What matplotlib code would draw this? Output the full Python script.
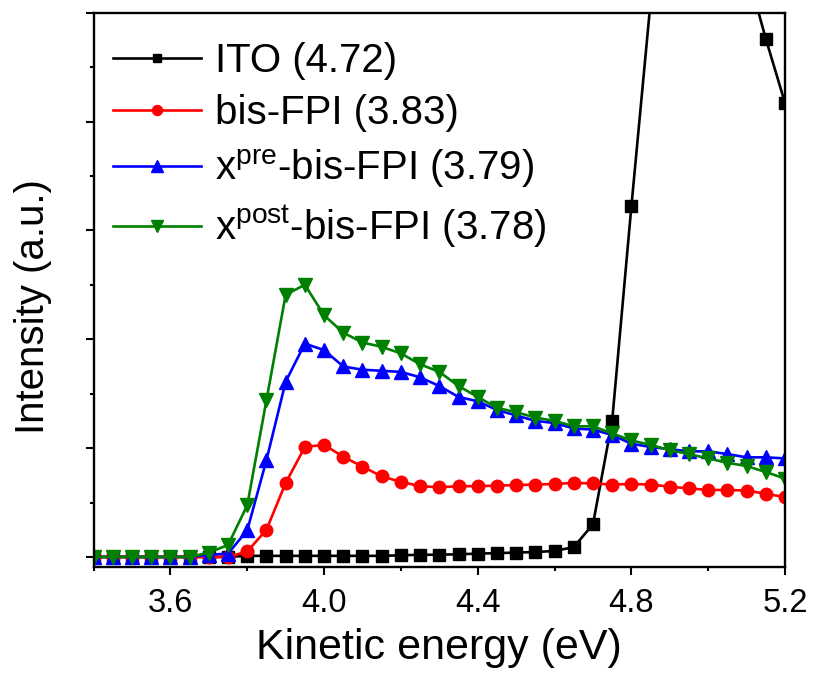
import matplotlib
matplotlib.use('Agg')
import matplotlib.pyplot as plt
from matplotlib.ticker import MultipleLocator, NullFormatter

plt.rcParams['font.family'] = ['Liberation Sans', 'DejaVu Sans']
plt.rcParams['mathtext.fontset'] = 'custom'
plt.rcParams['mathtext.rm'] = 'Liberation Sans'
plt.rcParams['mathtext.default'] = 'regular'

# kinetic energy grid (eV)
energy = [3.40, 3.45, 3.50, 3.55, 3.60, 3.65, 3.70, 3.75, 3.80, 3.85,
          3.90, 3.95, 4.00, 4.05, 4.10, 4.15, 4.20, 4.25, 4.30, 4.35,
          4.40, 4.45, 4.50, 4.55, 4.60, 4.65, 4.70, 4.75, 4.80, 4.85,
          4.90, 4.95, 5.00, 5.05, 5.10, 5.15, 5.20]

ito = [0.0, 0.0, 0.0, 0.0, 0.0, 0.0, 0.0, 0.0, 0.01, 0.01,
       0.01, 0.01, 0.01, 0.01, 0.01, 0.01, 0.015, 0.02, 0.02, 0.025,
       0.03, 0.035, 0.04, 0.045, 0.055, 0.09, 0.30, 1.25, 3.22, 5.10,
       5.80, 6.10, 6.10, 5.90, 5.40, 4.76, 4.17]

bis_fpi = [0.0, 0.0, 0.0, 0.0, 0.0, 0.0, 0.0, 0.0, 0.05, 0.25,
           0.68, 1.01, 1.03, 0.92, 0.83, 0.74, 0.69, 0.65, 0.64, 0.65,
           0.65, 0.655, 0.66, 0.665, 0.67, 0.68, 0.675, 0.665, 0.67, 0.665,
           0.645, 0.63, 0.615, 0.615, 0.61, 0.58, 0.55]

x_pre = [0.0, 0.0, 0.0, 0.0, 0.0, 0.0, 0.02, 0.03, 0.245, 0.89,
         1.61, 1.96, 1.90, 1.75, 1.72, 1.71, 1.70, 1.65, 1.57, 1.47,
         1.43, 1.35, 1.30, 1.25, 1.23, 1.18, 1.17, 1.12, 1.04, 1.01,
         0.99, 0.97, 0.97, 0.945, 0.915, 0.915, 0.905]

x_post = [0.0, 0.0, 0.0, 0.0, 0.0, 0.0, 0.04, 0.11, 0.475, 1.44,
          2.41, 2.50, 2.22, 2.06, 1.97, 1.93, 1.87, 1.77, 1.70, 1.57,
          1.47, 1.37, 1.33, 1.28, 1.25, 1.20, 1.20, 1.135, 1.07, 1.03,
          0.98, 0.945, 0.905, 0.865, 0.835, 0.78, 0.72]

labels = ['ITO (4.72)', 'bis-FPI (3.83)',
          r'x$^{pre}$-bis-FPI (3.79)', r'x$^{post}$-bis-FPI (3.78)']

fig = plt.figure(figsize=(8.14, 6.75), dpi=100)
ax = fig.add_axes([0.115, 0.1604, 0.8494, 0.8208])

ax.plot(energy, ito, color='black', lw=1.9, marker='s', ms=8, label=labels[0])
ax.plot(energy, bis_fpi, color='#ff0000', lw=1.9, marker='o', ms=9, label=labels[1])
ax.plot(energy, x_pre, color='#0000ff', lw=1.9, marker='^', ms=10, label=labels[2])
ax.plot(energy, x_post, color='#008000', lw=1.9, marker='v', ms=10, label=labels[3])

ax.set_xlim(3.4, 5.2)
ax.set_ylim(-0.09, 5.0)

ax.xaxis.set_major_locator(MultipleLocator(0.4))
ax.xaxis.set_minor_locator(MultipleLocator(0.2))
ax.yaxis.set_major_locator(MultipleLocator(1.0))
ax.yaxis.set_minor_locator(MultipleLocator(0.5))
ax.yaxis.set_major_formatter(NullFormatter())
ax.xaxis.set_major_formatter(plt.FuncFormatter(lambda v, p: '%.1f' % v))

ax.tick_params(axis='both', which='major', direction='out', length=5.5, width=1.5,
               labelsize=23.5, pad=10)
ax.tick_params(axis='both', which='minor', direction='out', length=3, width=1.5)
ax.tick_params(top=False, right=False)
for sp in ax.spines.values():
    sp.set_linewidth(1.7)

ax.set_xlabel('Kinetic energy (eV)', fontsize=31, labelpad=6)
ax.set_ylabel('Intensity (a.u.)', fontsize=29)
ax.yaxis.set_label_coords(-0.06, 0.47)

ax.legend(loc='upper left', bbox_to_anchor=(0.016, 0.962), frameon=False,
          fontsize=29, handlelength=2.2, handletextpad=0.33, labelspacing=0.36,
          borderaxespad=0.0, borderpad=0.2, markerscale=0.8)

fig.savefig('out.png', dpi=100)
